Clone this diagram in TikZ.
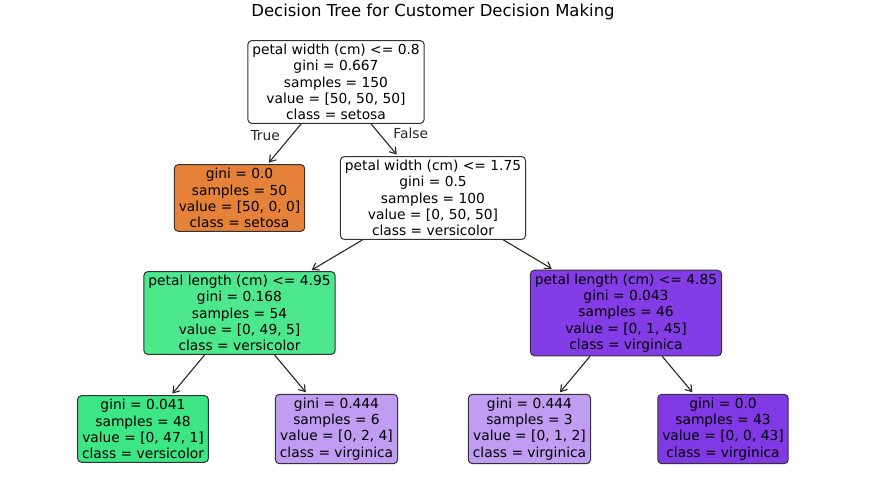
\documentclass[tikz,border=0pt]{standalone}
\usepackage{fontspec}
\setmainfont{DejaVu Sans}
\usetikzlibrary{arrows.meta,positioning}
\definecolor{dtsetosa}{HTML}{E58139}
\definecolor{dtversi}{HTML}{4DE88E}
\definecolor{dtversileaf}{HTML}{3DE684}
\definecolor{dtvirglight}{HTML}{C09CF2}
\definecolor{dtvirgnode}{HTML}{843DE6}
\definecolor{dtvirgpure}{HTML}{8139E5}
\definecolor{dtedge}{HTML}{333333}

\begin{document}
\begin{tikzpicture}[x=1pt,y=-1pt,
  treebox/.style={rectangle,rounded corners=4pt,draw=dtedge,line width=1pt,
                  align=center,inner xsep=4.5pt,inner ysep=3.7pt,
                  font=\fontsize{13.8}{16.2}\selectfont},
  arr/.style={-{Straight Barb[length=6pt,width=8pt]},line width=1.1pt,
              black!85,shorten >=2pt},
  edgelbl/.style={inner sep=0pt,font=\fontsize{13.8}{16.2}\selectfont}
]
  \useasboundingbox (0,0) rectangle (871,486);

  % ---- Title --------------------------------------------------
  \node[font=\fontsize{16.5}{20}\selectfont] (title) at (433,12)
    {Decision Tree for Customer Decision Making};

  % ---- Root and first split -----------------------------------
  \node[treebox,fill=white] (root) at (336,82)
    {petal width (cm) <= 0.8\\gini = 0.667\\samples = 150\\value = [50, 50, 50]\\class = setosa};
  \node[treebox,fill=dtsetosa] (setosa) at (239.5,198)
    {gini = 0.0\\samples = 50\\value = [50, 0, 0]\\class = setosa};
  \node[treebox,fill=white] (split2) at (433,198)
    {petal width (cm) <= 1.75\\gini = 0.5\\samples = 100\\value = [0, 50, 50]\\class = versicolor};

  \draw[arr] (root) -- node[edgelbl,pos=0.29,anchor=east,xshift=-11pt] (lbltrue) {True} (setosa);
  \draw[arr] (root) -- node[edgelbl,pos=0.29,anchor=west,xshift=14pt] (lblfalse) {False} (split2);

  % ---- Second level -------------------------------------------
  \node[treebox,fill=dtversi] (plleft) at (239.5,313)
    {petal length (cm) <= 4.95\\gini = 0.168\\samples = 54\\value = [0, 49, 5]\\class = versicolor};
  \node[treebox,fill=dtvirgnode] (plright) at (626,313)
    {petal length (cm) <= 4.85\\gini = 0.043\\samples = 46\\value = [0, 1, 45]\\class = virginica};

  \draw[arr] (split2) -- (plleft);
  \draw[arr] (split2) -- (plright);

  % ---- Leaves -------------------------------------------------
  \node[treebox,fill=dtversileaf] (leafa) at (143,429)
    {gini = 0.041\\samples = 48\\value = [0, 47, 1]\\class = versicolor};
  \node[treebox,fill=dtvirglight] (leafb) at (336.5,429)
    {gini = 0.444\\samples = 6\\value = [0, 2, 4]\\class = virginica};
  \node[treebox,fill=dtvirglight] (leafc) at (529.5,429)
    {gini = 0.444\\samples = 3\\value = [0, 1, 2]\\class = virginica};
  \node[treebox,fill=dtvirgpure] (leafd) at (723,429)
    {gini = 0.0\\samples = 43\\value = [0, 0, 43]\\class = virginica};

  \draw[arr] (plleft) -- (leafa);
  \draw[arr] (plleft) -- (leafb);
  \draw[arr] (plright) -- (leafc);
  \draw[arr] (plright) -- (leafd);

\end{tikzpicture}
\end{document}
